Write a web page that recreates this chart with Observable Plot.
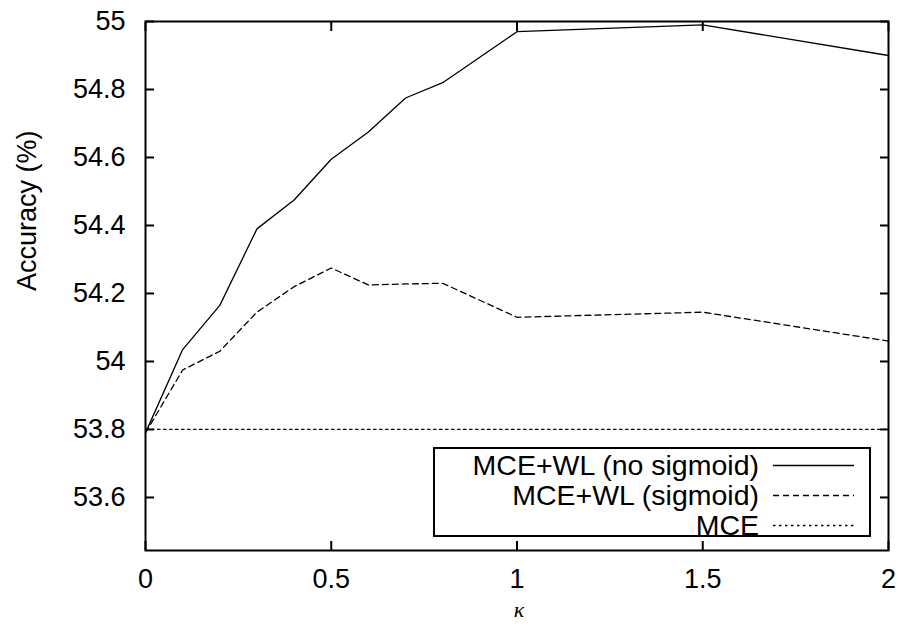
<!DOCTYPE html>
<html>
<head>
<meta charset="utf-8">
<script src="https://cdn.jsdelivr.net/npm/d3@7"></script>
<script src="https://cdn.jsdelivr.net/npm/@observablehq/plot@0.6"></script>
<style>
  html, body { margin: 0; padding: 0; background: #fff; }
  #wrap { position: relative; width: 898px; height: 630px; font-family: "Liberation Sans", Arial, sans-serif; }
  #legend { position: absolute; left: 433px; top: 447px; width: 438px; height: 90px; border: 2px solid #000; background: #fff; box-sizing: border-box; }
  .row { position: absolute; left: 0; height: 32px; width: 436px; }
  .lab { position: absolute; right: 112px; top: 0; font-size: 28.5px; line-height: 32px; color: #000; white-space: nowrap; }
  .row svg { position: absolute; left: 337px; top: 0; }
</style>
</head>
<body>
<div id="wrap"></div>
<script>
const kappa = [0, 0.1, 0.2, 0.3, 0.4, 0.5, 0.6, 0.7, 0.8, 1, 1.5, 2];
const noSigmoid = [53.79, 54.035, 54.165, 54.39, 54.475, 54.595, 54.675, 54.775, 54.82, 54.97, 54.99, 54.90];
const sigmoid   = [53.79, 53.975, 54.03, 54.145, 54.22, 54.275, 54.225, 54.228, 54.23, 54.13, 54.145, 54.06];
const mce       = [53.8, 53.8, 53.8, 53.8, 53.8, 53.8, 53.8, 53.8, 53.8, 53.8, 53.8, 53.8];
const seriesNames = ["MCE+WL (no sigmoid)", "MCE+WL (sigmoid)", "MCE"];
const seriesValues = [noSigmoid, sigmoid, mce];
const dashes = [null, "6,4", "2.5,3.5"];
const xTicks = [0, 0.5, 1, 1.5, 2];
const yTicks = [53.6, 53.8, 54, 54.2, 54.4, 54.6, 54.8, 55];
const yDomain = [53.444, 55];
const xDomain = [0, 2];

const rows = [];
seriesNames.forEach((name, si) => {
  kappa.forEach((k, i) => rows.push({series: name, k, acc: seriesValues[si][i]}));
});

const font = "Liberation Sans, Arial, sans-serif";
const fmt = d => String(+d.toFixed(1));

const lineMarks = seriesNames.map((name, si) =>
  Plot.line(rows.filter(r => r.series === name), {
    x: "k", y: "acc", stroke: "#000", strokeWidth: 1.3,
    strokeDasharray: dashes[si] ?? undefined
  })
);

const chart = Plot.plot({
  width: 898,
  height: 630,
  marginLeft: 145,
  marginRight: 10,
  marginTop: 21,
  marginBottom: 80,
  style: {fontFamily: font, fontSize: "27px", color: "#000", background: "#fff", overflow: "visible"},
  x: {domain: xDomain},
  y: {domain: yDomain},
  marks: [
    ...lineMarks,
    Plot.axisX(xTicks, {anchor: "bottom", tickSize: -9, strokeWidth: 2, text: null, label: null}),
    Plot.axisX(xTicks, {anchor: "top", tickSize: -9, strokeWidth: 2, text: null, label: null}),
    Plot.axisY(yTicks, {anchor: "left", tickSize: -9, strokeWidth: 2, text: null, label: null}),
    Plot.axisY(yTicks, {anchor: "right", tickSize: -9, strokeWidth: 2, text: null, label: null}),
    Plot.axisX(xTicks, {anchor: "bottom", tickSize: 0, tickPadding: 18, tickFormat: fmt, label: null, fontSize: 27}),
    Plot.axisY(yTicks, {anchor: "left", tickSize: 0, tickPadding: 20, tickFormat: fmt, label: null, fontSize: 27}),
    Plot.frame({stroke: "#000", strokeWidth: 2}),
    Plot.text(["Accuracy (%)"], {frameAnchor: "left", dx: -118, dy: 5, rotate: -90, fontSize: 27, fill: "#000"}),
    Plot.text(["κ"], {frameAnchor: "bottom", dx: 2, dy: 66, fontSize: 22, fontStyle: "italic", fontFamily: "Liberation Serif, DejaVu Serif, serif", fill: "#000"})
  ]
});

const wrap = document.getElementById("wrap");
wrap.appendChild(chart);

const legend = document.createElement("div");
legend.id = "legend";
seriesNames.forEach((name, si) => {
  const row = document.createElement("div");
  row.className = "row";
  row.style.top = (0 + si * 30) + "px";
  const lab = document.createElement("span");
  lab.className = "lab";
  lab.textContent = name;
  row.appendChild(lab);
  const svg = d3.create("svg").attr("width", 84).attr("height", 32);
  svg.append("line").attr("x1", 1).attr("x2", 82).attr("y1", 16.5).attr("y2", 16.5)
    .attr("stroke", "#000").attr("stroke-width", 1.3)
    .attr("stroke-dasharray", dashes[si]);
  row.appendChild(svg.node());
  legend.appendChild(row);
});
wrap.appendChild(legend);
</script>
</body>
</html>
